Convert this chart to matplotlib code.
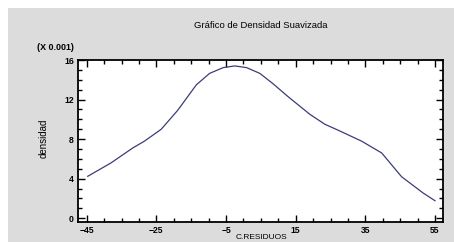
import matplotlib
matplotlib.use("Agg")
import matplotlib.pyplot as plt
from matplotlib.patches import Rectangle
from matplotlib.ticker import MultipleLocator, FixedLocator

# Data (density in units of 0.001)
residuos = [-44.7, -38.0, -31.8, -28.4, -23.6, -18.9, -13.5, -9.7, -5.8, -2.5,
            0.9, 4.7, 8.5, 12.8, 19.1, 23.4, 27.2, 33.9, 39.7, 45.4, 51.6, 55.0]
densidad = [4.24, 5.6, 7.1, 7.8, 9.0, 10.9, 13.5, 14.65, 15.23, 15.4,
            15.23, 14.65, 13.6, 12.3, 10.5, 9.5, 8.9, 7.8, 6.6, 4.2, 2.55, 1.77]
xticks = [-45, -25, -5, 15, 35, 55]
yticks = [0, 4, 8, 12, 16]

plt.rcParams['font.family'] = ['Liberation Sans', 'DejaVu Sans']

W, H = 454, 242
fig = plt.figure(figsize=(W / 100, H / 100), dpi=100)
fig.patch.set_facecolor('white')
bg = Rectangle((8 / W, 0), 1 - 8 / W, 1 - 8 / H,
               transform=fig.transFigure, facecolor='#dcdcdc',
               edgecolor='none', zorder=-10)
fig.add_artist(bg)

ax = fig.add_axes([78 / W, 1 - 221.7 / H, (443 - 78) / W, (221.7 - 60) / H])
ax.set_zorder(5)
ax.set_facecolor('white')
ax.plot(residuos, densidad, color='#3c3c78', linewidth=0.9)

ax.set_xlim(-47.5, 57.3)
ax.set_ylim(-0.35, 16)
ax.xaxis.set_major_locator(FixedLocator(xticks))
ax.xaxis.set_minor_locator(MultipleLocator(5))
ax.yaxis.set_major_locator(FixedLocator(yticks))
ax.yaxis.set_minor_locator(MultipleLocator(1))
ax.tick_params(which='both', direction='in', top=True, right=True,
               labelsize=6.2, width=1.0, colors='black')
ax.tick_params(axis='x', pad=3)
ax.tick_params(axis='y', pad=3)
ax.tick_params(which='major', length=5)
ax.tick_params(which='minor', length=3)
for lab in ax.get_xticklabels() + ax.get_yticklabels():
    lab.set_fontweight('bold')
for s in ax.spines.values():
    s.set_linewidth(1.3)

fig.text(261 / W, 1 - 25 / H, 'Gráfico de Densidad Suavizada', ha='center',
         va='center', fontsize=6.8)
fig.text(55 / W, 1 - 47 / H, '(X 0.001)', ha='center', va='center',
         fontsize=6.4, fontweight='bold')
fig.text(44 / W, 1 - 138 / H, 'densidad', ha='center', va='center',
         rotation=90, fontsize=7.0)
fig.text(261 / W, 1 - 241 / H, 'C.RESIDUOS', ha='center', va='bottom',
         fontsize=6.0)

fig.savefig('out.png', dpi=100)
